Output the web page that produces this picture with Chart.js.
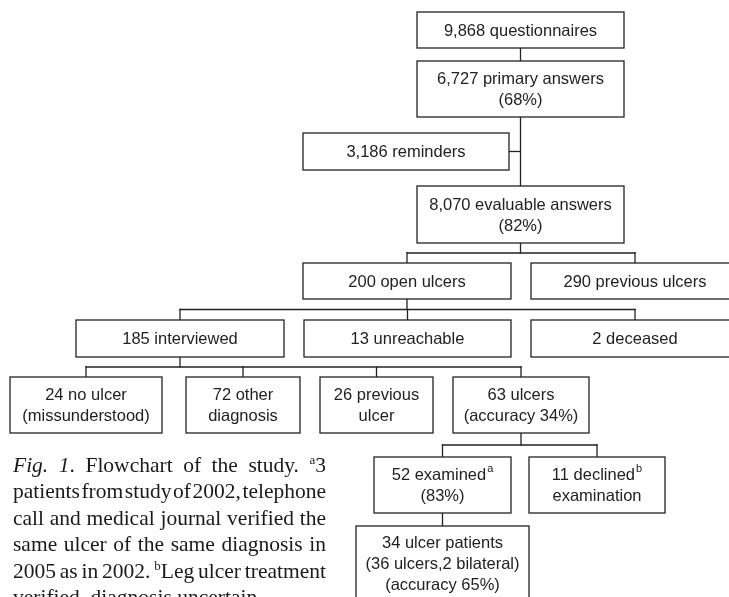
<!DOCTYPE html>
<html>
<head>
<meta charset="utf-8">
<script src="https://cdn.jsdelivr.net/npm/chart.js@4/dist/chart.umd.min.js"></script>
<style>
  html, body { margin: 0; padding: 0; background: #ffffff; }
  #wrap { position: relative; width: 729px; height: 597px; overflow: hidden; }
  canvas { display: block; }
</style>
</head>
<body>
<div id="wrap"><canvas id="c" width="729" height="597"></canvas></div>
<script>
// ---- Flowchart content (text of each box) ----
const nodeLines = [
  ['9,868 questionnaires'],
  ['6,727 primary answers', '(68%)'],
  ['3,186 reminders'],
  ['8,070 evaluable answers', '(82%)'],
  ['200 open ulcers'],
  ['290 previous ulcers'],
  ['185 interviewed'],
  ['13 unreachable'],
  ['2 deceased'],
  ['24 no ulcer', '(missunderstood)'],
  ['72 other', 'diagnosis'],
  ['26 previous', 'ulcer'],
  ['63 ulcers', '(accuracy 34%)'],
  ['52 examined', '(83%)'],
  ['11 declined', 'examination'],
  ['34 ulcer patients', '(36 ulcers,2 bilateral)', '(accuracy 65%)']
];
const nodeSup = ['', '', '', '', '', '', '', '', '', '', '', '', '', 'a', 'b', ''];

// parent -> children links (tree), and side joins (node joins trunk below parent)
const treeLinks = [[0, [1]], [1, [3]], [3, [4, 5]], [4, [6, 7, 8]], [6, [9, 10, 11, 12]], [12, [13, 14]], [13, [15]]];
const sideLinks = [[2, 1]];

// caption lines (*italic*, ^x = superscript char)
const captionLines = [
  '*Fig. 1*. Flowchart of the study. ^a3',
  'patients from study of 2002, telephone',
  'call and medical journal verified the',
  'same ulcer of the same diagnosis in',
  '2005 as in 2002. ^bLeg ulcer treatment',
  'verified, diagnosis uncertain.'
];

// ---- Layout (in scale units; separate from content) ----
const boxLeft   = [417, 417, 303, 417, 303, 531,  76, 304, 531,  10, 186, 320, 453, 374, 529, 356];
const boxRight  = [624, 624, 509, 624, 511, 739, 284, 511, 739, 162, 300, 433, 589, 511, 665, 529];
const boxTop    = [ 12,  61, 133, 186, 263, 263, 320, 320, 320, 377, 377, 377, 377, 457, 457, 526];
const boxBottom = [ 48, 117, 170, 243, 299, 299, 357, 357, 357, 433, 433, 433, 433, 513, 513, 600];

const STROKE = '#222222';
const BOX_FONT = '16.5px "Liberation Sans", Arial, sans-serif';
const SUP_FONT = '11px "Liberation Sans", Arial, sans-serif';
const LINE_GAP = 21;
const CAP_LEFT = 13, CAP_RIGHT = 326, CAP_BASE = 472, CAP_STEP = 26.4;
const CAP_SIZE = 21.5;
const SERIF = '"Liberation Serif", "Times New Roman", serif';

const flowPlugin = {
  id: 'flow',
  afterDatasetsDraw(chart) {
    const ctx = chart.ctx;
    const xs = chart.scales.x, ys = chart.scales.y;
    const X = v => xs.getPixelForValue(v);
    const Y = v => ys.getPixelForValue(v);
    const cx = i => X((boxLeft[i] + boxRight[i]) / 2);

    ctx.save();
    ctx.strokeStyle = STROKE;
    ctx.lineWidth = 1.3;
    ctx.lineCap = 'square';

    const seg = (x1, y1, x2, y2) => {
      ctx.beginPath(); ctx.moveTo(x1, y1); ctx.lineTo(x2, y2); ctx.stroke();
    };

    // connectors
    treeLinks.forEach(([p, kids]) => {
      const px = cx(p), pb = Y(boxBottom[p]);
      if (kids.length === 1) {
        seg(px, pb, px, Y(boxTop[kids[0]]));
      } else {
        const minTop = Math.min(...kids.map(k => boxTop[k]));
        const by = Y((boxBottom[p] + minTop) / 2);
        seg(px, pb, px, by);
        const xsKids = kids.map(cx);
        seg(Math.min(px, ...xsKids), by, Math.max(px, ...xsKids), by);
        kids.forEach(k => seg(cx(k), by, cx(k), Y(boxTop[k])));
      }
    });
    sideLinks.forEach(([s, p]) => {
      const yy = Y((boxTop[s] + boxBottom[s]) / 2);
      seg(X(boxRight[s]), yy, cx(p), yy);
    });

    // boxes
    nodeLines.forEach((lines, i) => {
      const x0 = X(boxLeft[i]), x1 = X(boxRight[i]);
      const y0 = Y(boxTop[i]), y1 = Y(boxBottom[i]);
      ctx.fillStyle = '#ffffff';
      ctx.fillRect(x0, y0, x1 - x0, y1 - y0);
      ctx.strokeRect(x0, y0, x1 - x0, y1 - y0);
      ctx.fillStyle = STROKE;
      ctx.textBaseline = 'middle';
      const mid = (y0 + y1) / 2;
      lines.forEach((t, j) => {
        const yy = mid + (j - (lines.length - 1) / 2) * LINE_GAP;
        ctx.font = BOX_FONT;
        const w = ctx.measureText(t).width;
        let supW = 0;
        if (j === 0 && nodeSup[i]) { ctx.font = SUP_FONT; supW = ctx.measureText(nodeSup[i]).width + 1; }
        const sx = (x0 + x1) / 2 - (w + supW) / 2;
        ctx.font = BOX_FONT;
        ctx.textAlign = 'left';
        ctx.fillText(t, sx, yy + 1);
        if (supW) {
          ctx.font = SUP_FONT;
          ctx.fillText(nodeSup[i], sx + w + 1, yy - 6);
        }
      });
    });

    // caption
    const parse = line => {
      let italic = false;
      const words = [];
      line.split(' ').forEach(wd => {
        const runs = [];
        let k = 0;
        while (k < wd.length) {
          const ch = wd[k];
          if (ch === '*') { italic = !italic; k++; continue; }
          if (ch === '^') { runs.push({ t: wd[k + 1], sup: true, it: false }); k += 2; continue; }
          const last = runs[runs.length - 1];
          if (last && !last.sup && last.it === italic) last.t += ch;
          else runs.push({ t: ch, sup: false, it: italic });
          k++;
        }
        words.push(runs);
      });
      return words;
    };
    const runFont = r => r.sup ? '13px ' + SERIF : (r.it ? 'italic ' : '') + CAP_SIZE + 'px ' + SERIF;
    const runW = r => { ctx.font = runFont(r); return ctx.measureText(r.t).width; };
    ctx.textBaseline = 'alphabetic';
    ctx.textAlign = 'left';
    ctx.fillStyle = '#1a1a1a';
    captionLines.forEach((line, li) => {
      const words = parse(line);
      const widths = words.map(ws => ws.reduce((a, r) => a + runW(r), 0));
      const total = widths.reduce((a, b) => a + b, 0);
      ctx.font = CAP_SIZE + 'px ' + SERIF;
      let gap = ctx.measureText(' ').width;
      if (li < captionLines.length - 1 && words.length > 1) gap = (CAP_RIGHT - CAP_LEFT - total) / (words.length - 1);
      let x = CAP_LEFT;
      const base = CAP_BASE + li * CAP_STEP;
      words.forEach((ws, wi) => {
        ws.forEach(r => {
          ctx.font = runFont(r);
          ctx.fillText(r.t, x, r.sup ? base - 8 : base);
          x += ctx.measureText(r.t).width;
        });
        x += gap;
      });
    });
    ctx.restore();
  }
};

new Chart(document.getElementById('c'), {
  type: 'scatter',
  data: {
    datasets: [{
      data: nodeLines.map((_, i) => ({ x: (boxLeft[i] + boxRight[i]) / 2, y: (boxTop[i] + boxBottom[i]) / 2 })),
      pointRadius: 0,
      pointHoverRadius: 0
    }]
  },
  options: {
    responsive: false,
    animation: false,
    devicePixelRatio: 1,
    layout: { padding: 0 },
    plugins: { legend: { display: false }, tooltip: { enabled: false } },
    events: [],
    scales: {
      x: { type: 'linear', min: 0, max: 729, display: false },
      y: { type: 'linear', min: 0, max: 597, reverse: true, display: false }
    }
  },
  plugins: [flowPlugin]
});
</script>
</body>
</html>
